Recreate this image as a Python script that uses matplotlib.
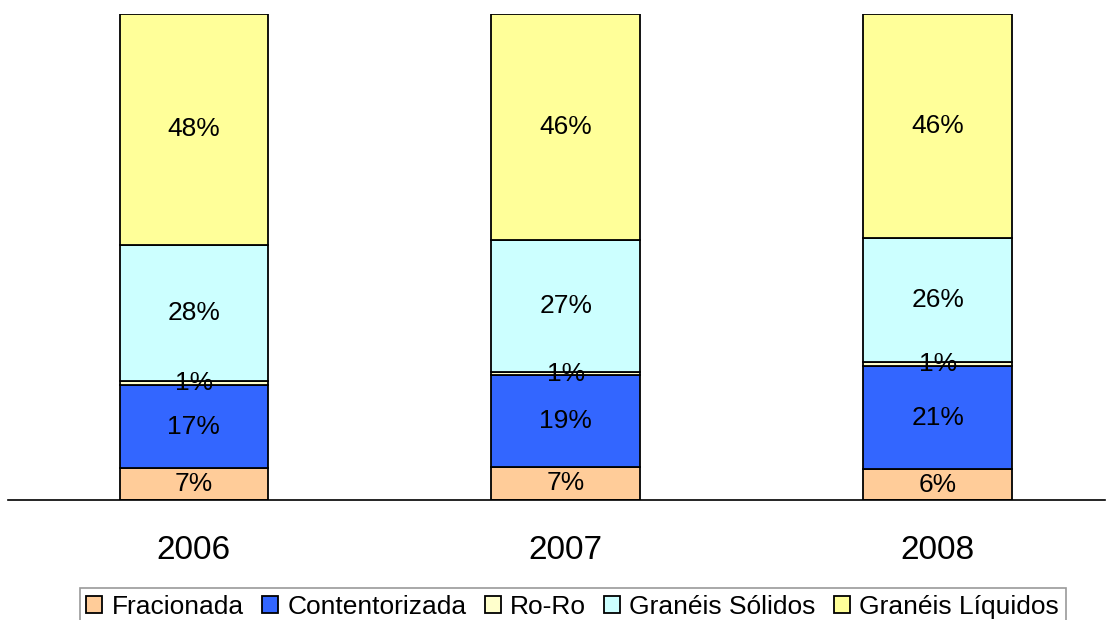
import matplotlib
matplotlib.use("Agg")
import matplotlib.pyplot as plt
import numpy as np

plt.rcParams['font.family'] = ['Liberation Sans', 'DejaVu Sans']

# dados (percentagens por tipo de carga)
anos = ['2006', '2007', '2008']
series = ['Fracionada', 'Contentorizada', 'Ro-Ro', 'Granéis Sólidos', 'Granéis Líquidos']
fracionada = [6.6, 6.8, 6.3]
contentorizada = [17.0, 18.9, 21.2]
ro_ro = [0.8, 0.6, 0.8]
graneis_solidos = [28.1, 27.3, 25.6]
graneis_liquidos = [47.5, 46.4, 46.1]
cores = ['#FFCC99', '#3366FF', '#FFFFCC', '#CCFFFF', '#FFFF99']

valores = [fracionada, contentorizada, ro_ro, graneis_solidos, graneis_liquidos]

fig = plt.figure(figsize=(11.1, 6.2), dpi=100)
ax = fig.add_axes([8 / 1110, 120 / 620, 1097 / 1110, 486 / 620])

x = np.arange(len(anos))
base = np.zeros(len(anos))
for nome, vals, cor in zip(series, valores, cores):
    vals = np.array(vals)
    ax.bar(x, vals, width=0.4, bottom=base, color=cor,
           edgecolor='black', linewidth=1.3, label=nome)
    for xi, b, v in zip(x, base, vals):
        ax.text(xi, b + v / 2, f'{v:.0f}%', ha='center', va='center', fontsize=19)
    base = base + vals

ax.set_xlim(-0.5, 2.45)
ax.set_ylim(0, 100)
ax.set_yticks([])
ax.set_xticks(x)
ax.set_xticklabels(anos, fontsize=24)
ax.tick_params(axis='x', length=0, pad=25)
for s in ['top', 'left', 'right']:
    ax.spines[s].set_visible(False)
ax.spines['bottom'].set_color('black')
ax.spines['bottom'].set_linewidth(1.2)

leg = fig.legend(loc='upper center', bbox_to_anchor=(0.516, 1 - 588 / 620),
                 ncol=5, fontsize=19, frameon=True, fancybox=False,
                 handlelength=0.6, handleheight=0.6, handletextpad=0.35,
                 columnspacing=0.7, borderpad=0.25, borderaxespad=0)
leg.get_frame().set_edgecolor('#808080')
leg.get_frame().set_linewidth(1.2)

fig.savefig('out.png', dpi=100)
